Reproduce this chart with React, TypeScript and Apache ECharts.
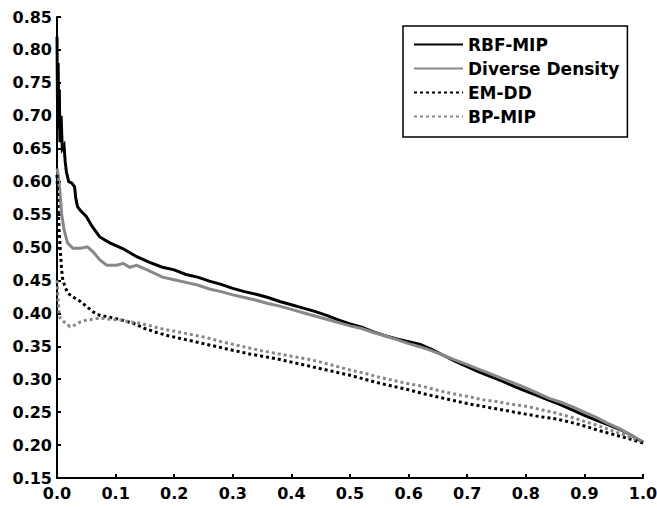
import React, { useEffect, useRef } from "react";
import * as echarts from "echarts";

const seriesNames = ["RBF-MIP", "Diverse Density", "EM-DD", "BP-MIP"];

const rbfX = [0, 0.001, 0.002, 0.003, 0.004, 0.005, 0.007, 0.009, 0.012, 0.014, 0.016, 0.02, 0.025, 0.03, 0.032, 0.035, 0.04, 0.05, 0.06, 0.073, 0.09, 0.113, 0.136, 0.159, 0.18, 0.2, 0.22, 0.24, 0.26, 0.28, 0.3, 0.32, 0.34, 0.36, 0.38, 0.4, 0.42, 0.44, 0.46, 0.48, 0.5, 0.52, 0.54, 0.56, 0.58, 0.6, 0.62, 0.64, 0.66, 0.68, 0.7, 0.72, 0.74, 0.76, 0.78, 0.8, 0.82, 0.84, 0.86, 0.88, 0.9, 0.92, 0.94, 0.96, 0.98, 1.0];
const rbfY = [0.82, 0.7, 0.78, 0.68, 0.74, 0.66, 0.7, 0.65, 0.655, 0.63, 0.615, 0.6, 0.598, 0.592, 0.575, 0.562, 0.556, 0.547, 0.532, 0.516, 0.507, 0.498, 0.486, 0.477, 0.47, 0.466, 0.459, 0.455, 0.449, 0.444, 0.438, 0.433, 0.429, 0.424, 0.418, 0.413, 0.408, 0.403, 0.397, 0.39, 0.384, 0.379, 0.372, 0.366, 0.361, 0.357, 0.353, 0.345, 0.336, 0.327, 0.319, 0.311, 0.304, 0.297, 0.289, 0.282, 0.275, 0.268, 0.261, 0.253, 0.245, 0.238, 0.231, 0.224, 0.215, 0.204];

const ddX = [0, 0.002, 0.005, 0.008, 0.012, 0.018, 0.027, 0.04, 0.052, 0.062, 0.073, 0.085, 0.102, 0.113, 0.124, 0.136, 0.154, 0.18, 0.2, 0.22, 0.24, 0.26, 0.28, 0.3, 0.32, 0.34, 0.36, 0.38, 0.4, 0.42, 0.44, 0.46, 0.48, 0.5, 0.52, 0.54, 0.56, 0.58, 0.6, 0.62, 0.64, 0.66, 0.68, 0.7, 0.72, 0.74, 0.76, 0.78, 0.8, 0.82, 0.84, 0.86, 0.88, 0.9, 0.92, 0.94, 0.96, 0.98, 1.0];
const ddY = [0.62, 0.61, 0.585, 0.55, 0.527, 0.507, 0.499, 0.499, 0.501, 0.493, 0.481, 0.473, 0.473, 0.476, 0.47, 0.473, 0.466, 0.455, 0.451, 0.447, 0.443, 0.437, 0.433, 0.428, 0.424, 0.42, 0.415, 0.411, 0.406, 0.401, 0.396, 0.391, 0.386, 0.381, 0.377, 0.371, 0.366, 0.36, 0.354, 0.349, 0.343, 0.336, 0.329, 0.322, 0.315, 0.308, 0.301, 0.294, 0.287, 0.279, 0.271, 0.265, 0.258, 0.25, 0.242, 0.233, 0.225, 0.215, 0.205];

const emX = [0, 0.002, 0.004, 0.006, 0.008, 0.01, 0.014, 0.018, 0.027, 0.04, 0.051, 0.062, 0.073, 0.096, 0.11, 0.13, 0.15, 0.17, 0.19, 0.21, 0.23, 0.25, 0.27, 0.29, 0.31, 0.33, 0.35, 0.375, 0.4, 0.425, 0.45, 0.475, 0.5, 0.525, 0.55, 0.575, 0.6, 0.625, 0.65, 0.675, 0.7, 0.725, 0.75, 0.775, 0.8, 0.825, 0.85, 0.875, 0.9, 0.925, 0.95, 0.975, 1.0];
const emY = [0.61, 0.56, 0.52, 0.49, 0.465, 0.45, 0.44, 0.431, 0.425, 0.418, 0.41, 0.402, 0.397, 0.393, 0.39, 0.385, 0.377, 0.371, 0.366, 0.362, 0.358, 0.354, 0.35, 0.346, 0.342, 0.338, 0.335, 0.331, 0.326, 0.321, 0.316, 0.311, 0.306, 0.3, 0.294, 0.289, 0.284, 0.278, 0.273, 0.268, 0.263, 0.259, 0.255, 0.251, 0.247, 0.243, 0.24, 0.235, 0.229, 0.222, 0.216, 0.21, 0.203];

const bpX = [0, 0.002, 0.004, 0.008, 0.015, 0.022, 0.03, 0.04, 0.051, 0.062, 0.073, 0.09, 0.107, 0.125, 0.142, 0.16, 0.176, 0.2, 0.222, 0.245, 0.26, 0.28, 0.3, 0.325, 0.35, 0.375, 0.4, 0.425, 0.45, 0.475, 0.5, 0.525, 0.55, 0.575, 0.6, 0.625, 0.65, 0.675, 0.7, 0.725, 0.75, 0.775, 0.8, 0.825, 0.85, 0.875, 0.9, 0.925, 0.95, 0.975, 1.0];
const bpY = [0.45, 0.42, 0.395, 0.39, 0.385, 0.38, 0.382, 0.387, 0.39, 0.391, 0.393, 0.391, 0.39, 0.387, 0.385, 0.381, 0.377, 0.373, 0.369, 0.365, 0.362, 0.357, 0.353, 0.348, 0.343, 0.339, 0.335, 0.331, 0.326, 0.32, 0.314, 0.309, 0.303, 0.298, 0.293, 0.289, 0.283, 0.278, 0.274, 0.269, 0.266, 0.262, 0.259, 0.254, 0.249, 0.243, 0.236, 0.229, 0.221, 0.213, 0.205];

const zip = (xs: number[], ys: number[]) => xs.map((x, i) => [x, ys[i]]);

const FONT = "DejaVu Sans";

export default function App() {
  const ref = useRef<HTMLDivElement>(null);
  useEffect(() => {
    if (!ref.current) return;
    const chart = echarts.init(ref.current, undefined, { renderer: "svg" });
    const mk = (name: string, data: number[][], color: string, dotted: boolean) => ({
      name,
      type: "line",
      data,
      symbol: "none",
      lineStyle: { color, width: 3, type: dotted ? [3, 3] : "solid", join: "miter" },
      itemStyle: { color },
    });
    chart.setOption({
      animation: false,
      backgroundColor: "#ffffff",
      grid: { left: 57, right: 14, top: 17, bottom: 30, containLabel: false, outerBoundsMode: "none" },
      legend: {
        orient: "vertical",
        left: 403,
        top: 26,
        padding: [10, 8, 12, 10],
        borderColor: "#000",
        borderWidth: 1.5,
        itemWidth: 49,
        itemHeight: 14,
        itemGap: 7,
        data: seriesNames,
        itemStyle: { opacity: 0 },
        textStyle: { fontFamily: FONT, fontWeight: "bold", fontSize: 17, lineHeight: 17, color: "#000" },
      },
      xAxis: {
        type: "value",
        min: 0,
        max: 1,
        interval: 0.1,
        splitLine: { show: false },
        axisLine: { lineStyle: { color: "#000", width: 2 } },
        axisTick: { inside: true, length: 4, lineStyle: { color: "#000", width: 2 } },
        axisLabel: {
          margin: 8,
          color: "#000",
          fontFamily: FONT,
          fontWeight: "bold",
          fontSize: 16,
          lineHeight: 14,
          formatter: (v: number) => v.toFixed(1),
        },
      },
      yAxis: {
        type: "value",
        min: 0.15,
        max: 0.85,
        interval: 0.05,
        splitLine: { show: false },
        axisLine: { show: true, lineStyle: { color: "#000", width: 2 } },
        axisTick: { show: true, inside: true, length: 4, lineStyle: { color: "#000", width: 2 } },
        axisLabel: {
          margin: 5,
          color: "#000",
          fontFamily: FONT,
          fontWeight: "bold",
          fontSize: 16,
          lineHeight: 14,
          formatter: (v: number) => v.toFixed(2),
        },
      },
      series: [
        mk(seriesNames[0], zip(rbfX, rbfY), "#000000", false),
        mk(seriesNames[1], zip(ddX, ddY), "#888888", false),
        mk(seriesNames[2], zip(emX, emY), "#000000", true),
        mk(seriesNames[3], zip(bpX, bpY), "#888888", true),
      ],
    });
    return () => chart.dispose();
  }, []);
  return (
    <div
      ref={ref}
      style={{ position: "fixed", left: 0, top: 0, width: 657, height: 508, background: "#fff" }}
    />
  );
}
